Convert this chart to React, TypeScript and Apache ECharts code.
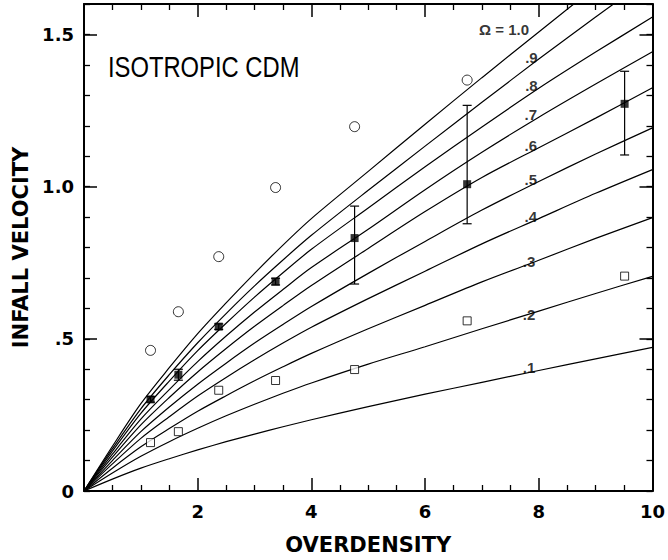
import React, { useEffect, useRef } from 'react';
import * as echarts from 'echarts';

// ---- data ----
const omegas = [0.1, 0.2, 0.3, 0.4, 0.5, 0.6, 0.7, 0.8, 0.9, 1.0];
const curveX = [0, 0.5, 1, 1.5, 2, 2.5, 3, 3.5, 4, 5, 6, 7, 8, 9, 10];
const curve01 = [0, 0.039, 0.075, 0.106, 0.135, 0.162, 0.187, 0.211, 0.234, 0.277, 0.318, 0.357, 0.396, 0.434, 0.472];
const curve02 = [0, 0.059, 0.114, 0.162, 0.206, 0.247, 0.285, 0.321, 0.355, 0.417, 0.474, 0.533, 0.591, 0.649, 0.705];
const curve03 = [0, 0.075, 0.145, 0.205, 0.262, 0.313, 0.362, 0.408, 0.452, 0.533, 0.610, 0.687, 0.758, 0.830, 0.898];
const curve04 = [0, 0.089, 0.173, 0.244, 0.312, 0.373, 0.431, 0.486, 0.538, 0.632, 0.722, 0.812, 0.895, 0.978, 1.056];
const curve05 = [0, 0.100, 0.195, 0.276, 0.351, 0.420, 0.486, 0.547, 0.606, 0.715, 0.820, 0.923, 1.017, 1.107, 1.193];
const curve06 = [0, 0.111, 0.217, 0.307, 0.391, 0.468, 0.541, 0.609, 0.675, 0.797, 0.918, 1.030, 1.128, 1.225, 1.325];
const curve07 = [0, 0.121, 0.236, 0.333, 0.425, 0.509, 0.588, 0.662, 0.734, 0.860, 0.990, 1.113, 1.228, 1.337, 1.443];
const curve08 = [0, 0.131, 0.255, 0.361, 0.461, 0.551, 0.637, 0.717, 0.794, 0.930, 1.065, 1.196, 1.323, 1.442, 1.557];
const curve09 = [0, 0.139, 0.270, 0.382, 0.487, 0.583, 0.674, 0.759, 0.840, 0.988, 1.133, 1.277, 1.419, 1.557, 1.693];
const curve10 = [0, 0.147, 0.287, 0.405, 0.517, 0.618, 0.715, 0.808, 0.895, 1.050, 1.205, 1.358, 1.508, 1.657, 1.805];
const curves = [curve01, curve02, curve03, curve04, curve05, curve06, curve07, curve08, curve09, curve10];

const curveLabels = ['.1', '.2', '.3', '.4', '.5', '.6', '.7', '.8', '.9', 'Ω = 1.0'];
const curveLabelX = [7.83, 7.83, 7.83, 7.86, 7.86, 7.86, 7.86, 7.87, 7.87, 7.39];
const curveLabelY = [0.407, 0.580, 0.754, 0.902, 1.023, 1.134, 1.236, 1.331, 1.423, 1.515];

const filledX = [1.17, 1.66, 2.37, 3.37, 4.76, 6.74, 9.51];
const filledY = [0.301, 0.382, 0.540, 0.688, 0.831, 1.008, 1.272];
const filledLow = [0.292, 0.364, 0.531, 0.677, 0.680, 0.878, 1.104];
const filledHigh = [0.310, 0.400, 0.549, 0.699, 0.936, 1.267, 1.379];

const circleX = [1.17, 1.66, 2.37, 3.37, 4.76, 6.74];
const circleY = [0.462, 0.589, 0.770, 0.997, 1.197, 1.350];

const openSqX = [1.17, 1.66, 2.37, 3.37, 4.76, 6.74, 9.51];
const openSqY = [0.159, 0.195, 0.331, 0.363, 0.399, 0.559, 0.706];

const xTickValues = [2, 4, 6, 8, 10];
const xTickLabels = ['2', '4', '6', '8', '10'];
const yTickValues = [0, 0.5, 1.0, 1.5];
const yTickLabels = ['0', '.5', '1.0', '1.5'];

const AX_FONT = 'DejaVu Sans';

export default function App() {
  const ref = useRef<HTMLDivElement>(null);
  useEffect(() => {
    if (!ref.current) return;
    const chart = echarts.init(ref.current, null, { renderer: 'svg' });
    const axisLine = { show: true, onZero: false, lineStyle: { color: '#000', width: 2 } };
    const majorTick = { show: true, inside: true, length: 13, lineStyle: { color: '#000', width: 1.5 } };
    const minorTickStyle = { show: true, inside: true, length: 6, lineStyle: { color: '#000', width: 1.3 } };
    const labelFont = { fontFamily: AX_FONT, fontWeight: 'bold' as const, fontSize: 18, color: '#000' };

    const xLabelFmt = (v: number) => {
      const i = xTickValues.findIndex((t) => Math.abs(t - v) < 1e-6);
      return i >= 0 ? xTickLabels[i] : '';
    };
    const yLabelFmt = (v: number) => {
      const i = yTickValues.findIndex((t) => Math.abs(t - v) < 1e-6);
      return i >= 0 ? yTickLabels[i] : '';
    };

    const lineSeries = curves.map((c, k) => ({
      type: 'line',
      name: 'Ω=' + omegas[k],
      data: curveX.map((x, i) => [x, c[i]]),
      smooth: 0.3,
      showSymbol: false,
      symbol: 'none',
      clip: true,
      lineStyle: { color: '#000', width: 1.2 },
      z: 2,
    }));

    chart.setOption({
      animation: false,
      backgroundColor: '#fff',
      grid: { left: 84, right: 10, top: 4, bottom: 68, containLabel: false },
      xAxis: [
        {
          type: 'value', min: 0, max: 10, interval: 2, position: 'bottom',
          axisLine, axisTick: majorTick,
          minorTick: { ...minorTickStyle, splitNumber: 4 },
          splitLine: { show: false }, minorSplitLine: { show: false },
          axisLabel: { ...labelFont, formatter: xLabelFmt, margin: 11 },
          name: 'OVERDENSITY', nameLocation: 'middle', nameGap: 43,
          nameTextStyle: { fontFamily: AX_FONT, fontWeight: 'bold', fontSize: 21, color: '#000' },
        },
        {
          type: 'value', min: 0, max: 10, interval: 2, position: 'top',
          axisLine, axisTick: majorTick,
          minorTick: { ...minorTickStyle, splitNumber: 4 },
          splitLine: { show: false }, minorSplitLine: { show: false },
          axisLabel: { show: false },
        },
      ],
      yAxis: [
        {
          type: 'value', min: 0, max: 1.6, interval: 0.1, position: 'left',
          axisLine, axisTick: minorTickStyle,
          splitLine: { show: false },
          axisLabel: { ...labelFont, formatter: yLabelFmt, margin: 10 },
          name: 'INFALL VELOCITY', nameLocation: 'middle', nameGap: 50,
          nameTextStyle: { fontFamily: AX_FONT, fontWeight: 'bold', fontSize: 21, color: '#000' },
        },
        {
          type: 'value', min: 0, max: 1.6, interval: 0.5, position: 'left',
          axisLine: { show: false, onZero: false }, axisTick: majorTick,
          splitLine: { show: false }, axisLabel: { show: false },
        },
        {
          type: 'value', min: 0, max: 1.6, interval: 0.1, position: 'right',
          axisLine, axisTick: minorTickStyle,
          splitLine: { show: false }, axisLabel: { show: false },
        },
        {
          type: 'value', min: 0, max: 1.6, interval: 0.5, position: 'right',
          axisLine: { show: false, onZero: false }, axisTick: majorTick,
          splitLine: { show: false }, axisLabel: { show: false },
        },
      ],
      graphic: [
        {
          type: 'text', x: 108, y: 67, scaleX: 0.82,
          style: {
            text: 'ISOTROPIC CDM', fill: '#000', fontFamily: 'Liberation Sans',
            fontSize: 29, fontWeight: 'normal', textVerticalAlign: 'middle', textAlign: 'left',
          },
          z: 10,
        },
      ],
      series: [
        ...lineSeries,
        {
          type: 'scatter',
          name: 'labels',
          data: curveLabelX.map((x, i) => [x, curveLabelY[i]]),
          symbolSize: 1,
          itemStyle: { color: 'rgba(0,0,0,0)' },
          label: {
            show: true, position: 'inside',
            formatter: (p: any) => curveLabels[p.dataIndex],
            fontFamily: 'Liberation Sans', fontWeight: 'bold', fontSize: 15, color: '#000',
          },
          z: 5,
        },
        {
          type: 'custom',
          name: 'errors',
          data: filledX.map((x, i) => [x, filledLow[i], filledHigh[i]]),
          renderItem: (params: any, api: any) => {
            const x = api.value(0);
            const p1 = api.coord([x, api.value(1)]);
            const p2 = api.coord([x, api.value(2)]);
            const w = 4.5;
            const st = { stroke: '#000', lineWidth: 1.2 };
            return {
              type: 'group',
              children: [
                { type: 'line', shape: { x1: p1[0], y1: p1[1], x2: p2[0], y2: p2[1] }, style: st },
                { type: 'line', shape: { x1: p1[0] - w, y1: p1[1], x2: p1[0] + w, y2: p1[1] }, style: st },
                { type: 'line', shape: { x1: p2[0] - w, y1: p2[1], x2: p2[0] + w, y2: p2[1] }, style: st },
              ],
            };
          },
          z: 6,
        },
        {
          type: 'scatter', name: 'filled',
          data: filledX.map((x, i) => [x, filledY[i]]),
          symbol: 'rect', symbolSize: 8,
          itemStyle: { color: '#000' }, z: 7,
        },
        {
          type: 'scatter', name: 'circles',
          data: circleX.map((x, i) => [x, circleY[i]]),
          symbol: 'circle', symbolSize: 10,
          itemStyle: { color: '#fff', borderColor: '#000', borderWidth: 1 }, z: 7,
        },
        {
          type: 'scatter', name: 'openSquares',
          data: openSqX.map((x, i) => [x, openSqY[i]]),
          symbol: 'rect', symbolSize: 8,
          itemStyle: { color: '#fff', borderColor: '#000', borderWidth: 1 }, z: 7,
        },
      ],
    });
    return () => chart.dispose();
  }, []);
  return (
    <div
      ref={ref}
      style={{ position: 'absolute', left: 0, top: 0, width: 668, height: 560, background: '#fff' }}
    />
  );
}
